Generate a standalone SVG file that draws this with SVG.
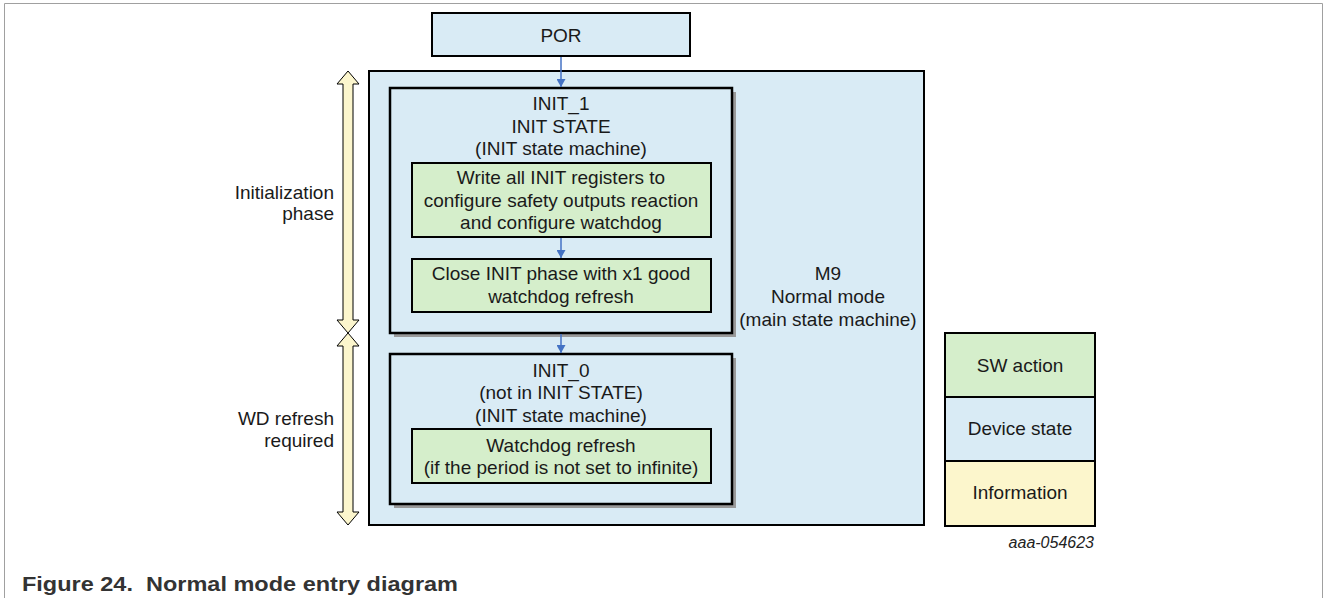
<svg xmlns="http://www.w3.org/2000/svg" width="1328" height="598" viewBox="0 0 1328 598">
<style>
.t{font-family:"Liberation Sans",Arial,sans-serif;font-size:19px;fill:#1a1a1a;text-anchor:middle}
.l{text-anchor:end}
.state{fill:#d9ebf5;stroke:#000;stroke-width:2}
.inner{fill:#d9ebf5;stroke:#000;stroke-width:2.5}
.action{fill:#d5eecb;stroke:#000;stroke-width:2}
.info{fill:#fcf6cc;stroke:#000;stroke-width:2}
.span{fill:#fcf6cd;stroke:#000;stroke-width:1}
.shadow{fill:#9a9a9a}
.conn{stroke:#4472c4;stroke-width:1.5;fill:none;marker-end:url(#ah)}
</style>
<defs>
<marker id="ah" viewBox="0 0 8 9" refX="8" refY="4.5" markerWidth="8" markerHeight="9" markerUnits="userSpaceOnUse" orient="auto">
<path d="M0,0 L8,4.5 L0,9 z" fill="#4472c4"/>
</marker>
</defs>
<rect x="0" y="0" width="1328" height="598" fill="#fff"/>
<path d="M4.5,598 V3.5 H1322.5 V598" fill="none" stroke="#a0a0a0" stroke-width="1"/>

<g id="por">
<rect class="state" x="432" y="13" width="258" height="43"/>
<text class="t" x="561" y="42">POR</text>
</g>

<g id="m9">
<rect class="state" x="369" y="71" width="555" height="454"/>
<text class="t" x="828" y="280">M9</text>
<text class="t" x="828" y="303">Normal mode</text>
<text class="t" x="828" y="326">(main state machine)</text>
</g>

<g id="init1">
<rect class="shadow" x="394" y="92" width="342" height="245"/>
<rect class="inner" x="390" y="88" width="342" height="245"/>
<text class="t" x="561" y="110">INIT_1</text>
<text class="t" x="561" y="132.5">INIT STATE</text>
<text class="t" x="561" y="155">(INIT state machine)</text>
</g>

<g id="write-init">
<rect class="action" x="412" y="163" width="299" height="74"/>
<text class="t" x="561" y="184">Write all INIT registers to</text>
<text class="t" x="561" y="207">configure safety outputs reaction</text>
<text class="t" x="561" y="229">and configure watchdog</text>
</g>

<g id="close-init">
<rect class="action" x="412" y="259" width="299" height="53"/>
<text class="t" x="561" y="280">Close INIT phase with x1 good</text>
<text class="t" x="561" y="303">watchdog refresh</text>
</g>

<g id="init0">
<rect class="shadow" x="394" y="358" width="342" height="150"/>
<rect class="inner" x="390" y="354" width="342" height="150"/>
<text class="t" x="561" y="377">INIT_0</text>
<text class="t" x="561" y="399">(not in INIT STATE)</text>
<text class="t" x="561" y="422">(INIT state machine)</text>
</g>

<g id="wd-refresh">
<rect class="action" x="412" y="429" width="299" height="54"/>
<text class="t" x="561" y="452">Watchdog refresh</text>
<text class="t" x="561" y="474">(if the period is not set to infinite)</text>
</g>

<g id="connectors">
<path class="conn" d="M561,57 V87"/>
<path class="conn" d="M561,238 V258"/>
<path class="conn" d="M561,334 V353"/>
</g>

<g id="phase-init">
<polygon class="span" points="348,71 359,84 353,84 353,320 359,320 348,333 337,320 343,320 343,84 337,84"/>
<text class="t l" x="334" y="199">Initialization</text>
<text class="t l" x="334" y="220">phase</text>
</g>

<g id="phase-wd">
<polygon class="span" points="348,333 359,346 353,346 353,512 359,512 348,525 337,512 343,512 343,346 337,346"/>
<text class="t l" x="334" y="425">WD refresh</text>
<text class="t l" x="334" y="447">required</text>
</g>

<g id="legend">
<rect class="action" x="945" y="333" width="150" height="64"/>
<rect class="state" x="945" y="397" width="150" height="64"/>
<rect class="info" x="945" y="461" width="150" height="65"/>
<text class="t" x="1020" y="372">SW action</text>
<text class="t" x="1020" y="435">Device state</text>
<text class="t" x="1020" y="499">Information</text>
</g>

<text x="1094" y="548" font-family="Liberation Sans, Arial, sans-serif" font-size="16" font-style="italic" fill="#222" text-anchor="end">aaa-054623</text>
<text x="22" y="591" font-family="Liberation Sans, Arial, sans-serif" font-size="21" font-weight="bold" fill="#333" textLength="436" lengthAdjust="spacingAndGlyphs" xml:space="preserve">Figure 24.  Normal mode entry diagram</text>
</svg>
